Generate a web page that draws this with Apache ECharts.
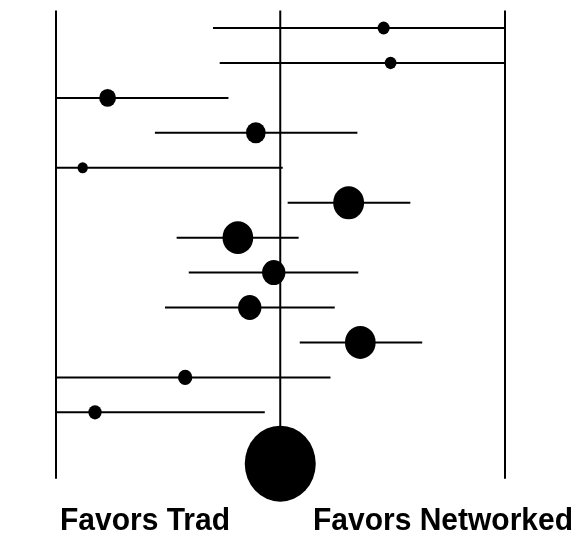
<!DOCTYPE html>
<html><head><meta charset="utf-8">
<script src="https://cdn.jsdelivr.net/npm/echarts@6/dist/echarts.min.js"></script>
<style>html,body{margin:0;padding:0;background:#fff}#chart{width:577px;height:535px}</style>
</head><body><div id="chart"></div>
<script>
// ---- data ----
const studies = ['Study 1','Study 2','Study 3','Study 4','Study 5','Study 6','Study 7','Study 8','Study 9','Study 10','Study 11','Study 12'];
const effect  = [0.461, 0.492, -0.770, -0.109, -0.881, 0.305, -0.189, -0.029, -0.136, 0.357, -0.424, -0.826];
const ciLow   = [-0.300, -0.270, -1.000, -0.559, -1.000, 0.033, -0.462, -0.408, -0.514, 0.087, -1.000, -1.000];
const ciHigh  = [1.000, 1.000, -0.231, 0.344, 0.011, 0.580, 0.082, 0.348, 0.243, 0.633, 0.224, -0.069];
const weights = [2.9, 2.7, 5.6, 7.7, 2.1, 19.0, 18.7, 10.8, 10.8, 18.7, 4.1, 3.5];
const summaryEffect = 0;
const summaryWeight = 100;
const sideLabels = ['Favors Trad', 'Favors Networked'];

// ---- layout / style constants ----
const X_MIN = -1, X_MAX = 1;
const Y_MIN = 0.5, Y_MAX = 13.9;
const summaryRow = studies.length + 1.47;
const sizeOf = w => [7.1 * Math.sqrt(w), 7.1 * 1.07 * Math.sqrt(w)];

const chart = echarts.init(document.getElementById('chart'));
const hidden = { axisLine:{show:false}, axisTick:{show:false}, axisLabel:{show:false}, splitLine:{show:false} };
const labelFont = { align: 'center', verticalAlign: 'middle', fill: '#000',
                    fontSize: 30, fontWeight: 'bold', fontFamily: '"Liberation Sans", Arial, sans-serif' };

chart.setOption({
  animation: false,
  backgroundColor: '#fff',
  grid: { left: 56, right: 72.5, top: 10.53, height: 468.2 },
  xAxis: Object.assign({ type: 'value', min: X_MIN, max: X_MAX }, hidden),
  yAxis: Object.assign({ type: 'value', min: Y_MIN, max: Y_MAX, inverse: true }, hidden),
  series: [
    {
      type: 'line', silent: true, symbol: 'none', z: 1,
      data: [],
      markLine: {
        silent: true, symbol: ['none','none'], label: {show:false},
        lineStyle: { color: '#000', width: 2, type: 'solid' },
        data: [{ xAxis: X_MIN }, { xAxis: X_MAX }]
      }
    },
    {
      type: 'line', silent: true, symbol: 'none', z: 2,
      lineStyle: { color: '#000', width: 2 },
      data: [[summaryEffect, Y_MIN], [summaryEffect, summaryRow]]
    },
    {
      type: 'custom', silent: true, z: 3,
      encode: { x: [0, 1], y: 2 },
      data: studies.map((s, i) => [ciLow[i], ciHigh[i], i + 1]),
      renderItem: function (params, api) {
        const y = api.value(2);
        const p1 = api.coord([api.value(0), y]);
        const p2 = api.coord([api.value(1), y]);
        return { type: 'line', shape: { x1: p1[0], y1: p1[1], x2: p2[0], y2: p2[1] },
                 style: { stroke: '#000', lineWidth: 2 } };
      }
    },
    {
      type: 'scatter', silent: true, z: 4,
      itemStyle: { color: '#000', opacity: 1 },
      symbol: 'circle',
      symbolSize: v => sizeOf(v[2]),
      data: studies.map((s, i) => [effect[i], i + 1, weights[i]])
    },
    {
      type: 'scatter', silent: true, z: 5,
      itemStyle: { color: '#000', opacity: 1 },
      symbol: 'circle',
      symbolSize: v => sizeOf(v[2]),
      data: [[summaryEffect, summaryRow, summaryWeight]]
    }
  ],
  graphic: [
    { type: 'text', x: 145, y: 521, scaleY: 1.03, silent: true,
      style: Object.assign({ text: sideLabels[0] }, labelFont) },
    { type: 'text', x: 443, y: 521, scaleY: 1.03, silent: true,
      style: Object.assign({ text: sideLabels[1] }, labelFont) }
  ]
});
</script>
</body></html>
